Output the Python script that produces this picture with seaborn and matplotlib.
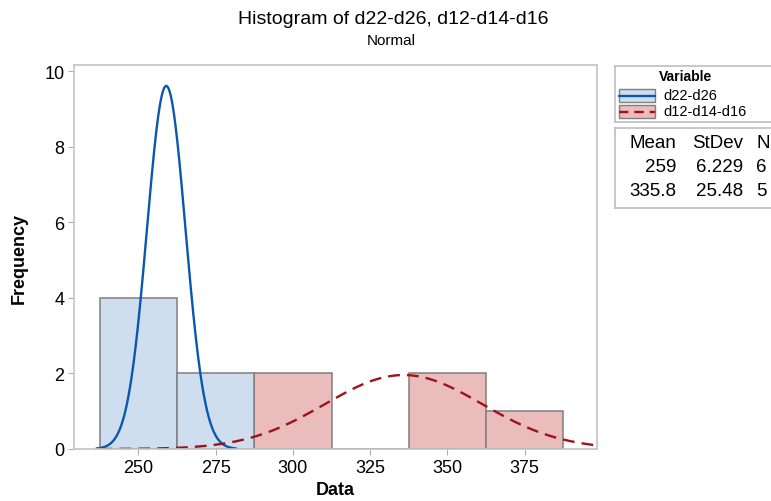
import numpy as np
import pandas as pd
import seaborn as sns
import matplotlib.pyplot as plt
from matplotlib.patches import Rectangle

# histogram bins (width 25) and counts per variable
bin_edges = [237.5, 262.5, 287.5, 312.5, 337.5, 362.5, 387.5]
variables = ["d22-d26", "d12-d14-d16"]
centers_d22 = [250, 275]
counts_d22 = [4, 2]
centers_d12 = [300, 350, 375]
counts_d12 = [2, 2, 1]

# fitted normal stats (from the legend table)
means = [259, 335.8]
stdevs = [6.229, 25.48]
ns = [6, 5]
mean_labels = ["259", "335.8"]
sd_labels = ["6.229", "25.48"]
n_labels = ["6", "5"]

fill_colors = {"d22-d26": "#cfdeef", "d12-d14-d16": "#eabcbc"}
line_colors = {"d22-d26": "#0a58ad", "d12-d14-d16": "#9e1219"}

sns.set_style("white")
plt.rcParams["font.family"] = ["Liberation Sans", "DejaVu Sans"]
plt.rcParams["text.color"] = "black"
plt.rcParams["axes.labelcolor"] = "black"
plt.rcParams["xtick.color"] = "black"
plt.rcParams["ytick.color"] = "black"

tabela = pd.DataFrame({
    "valor": centers_d22 + centers_d12,
    "peso": counts_d22 + counts_d12,
    "variable": [variables[0]] * len(centers_d22) + [variables[1]] * len(centers_d12),
})

fig = plt.figure(figsize=(7.71, 5.02), dpi=100)
ax = fig.add_axes([74 / 771, 52 / 502, (597 - 74) / 771, (450 - 66) / 502])

sns.histplot(data=tabela, x="valor", weights="peso", hue="variable", bins=bin_edges,
             palette=fill_colors, alpha=1, edgecolor="#7f7f7f", linewidth=1.1,
             legend=False, ax=ax)

# normal curves scaled to frequency
binw = bin_edges[1] - bin_edges[0]
spans = [3.63, 3.85]
for var, m, s, n, k in zip(variables, means, stdevs, ns, spans):
    xs = np.linspace(m - k * s, m + k * s, 400)
    ys = n * binw * np.exp(-0.5 * ((xs - m) / s) ** 2) / (s * np.sqrt(2 * np.pi))
    sns.lineplot(x=xs, y=ys, color=line_colors[var], linewidth=1.7, ax=ax)
    if var == "d12-d14-d16":
        ax.lines[-1].set_dashes((5, 3))

ax.set_xlim(229.15, 398.4)
ax.set_ylim(0, 10.16)
ax.set_xticks([250, 275, 300, 325, 350, 375])
ax.set_yticks([0, 2, 4, 6, 8, 10])
ax.tick_params(axis="both", labelsize=13, length=4, width=0.8, color="#b0b0b0",
               labelcolor="black", direction="out", left=True, bottom=True, pad=3)
for sp in ax.spines.values():
    sp.set_color("#c4c4c4")
    sp.set_linewidth(1.2)
ax.set_xlabel("Data", fontsize=13, fontweight="bold", labelpad=4)
ax.set_ylabel("Frequency", fontsize=13, fontweight="bold", labelpad=12)

fig.text(0.51, 0.962, "Histogram of d22-d26, d12-d14-d16", ha="center", va="center", fontsize=14)
fig.text(0.507, 0.918, "Normal", ha="center", va="center", fontsize=11)

# legend box 1 (pixel coordinates of the reference)
lg = fig.add_axes([615 / 771, (502 - 123) / 502, 200 / 771, 56 / 502])
lg.set_xlim(615, 815)
lg.set_ylim(123, 67)
lg.set_xticks([])
lg.set_yticks([])
for sp in lg.spines.values():
    sp.set_color("#bdbdbd")
    sp.set_linewidth(1.2)
lg.text(686, 77, "Variable", ha="center", va="center", fontsize=10, fontweight="bold")
lg.add_patch(Rectangle((619, 90), 36, 13, facecolor=fill_colors["d22-d26"], edgecolor="#7f7f7f", lw=1))
lg.plot([619, 655], [96.5, 96.5], color=line_colors["d22-d26"], lw=1.7)
lg.add_patch(Rectangle((619, 106), 36, 13, facecolor=fill_colors["d12-d14-d16"], edgecolor="#7f7f7f", lw=1))
lg.plot([619, 655], [112.5, 112.5], color=line_colors["d12-d14-d16"], lw=1.7, dashes=(4, 2.5))
lg.text(663, 96, variables[0], ha="left", va="center", fontsize=10.5)
lg.text(663, 111.5, variables[1], ha="left", va="center", fontsize=10.5)

# legend box 2: stats table
tb = fig.add_axes([615 / 771, (502 - 209) / 502, 200 / 771, 80 / 502])
tb.set_xlim(615, 815)
tb.set_ylim(209, 129)
tb.set_xticks([])
tb.set_yticks([])
for sp in tb.spines.values():
    sp.set_color("#bdbdbd")
    sp.set_linewidth(1.2)
tb.text(676, 144, "Mean", ha="right", va="center", fontsize=13.5)
tb.text(743, 144, "StDev", ha="right", va="center", fontsize=13.5)
tb.text(756, 144, "N", ha="left", va="center", fontsize=13.5)
for i in range(2):
    yy = 168 + 24 * i
    tb.text(676, yy, mean_labels[i], ha="right", va="center", fontsize=13.5)
    tb.text(743, yy, sd_labels[i], ha="right", va="center", fontsize=13.5)
    tb.text(756, yy, n_labels[i], ha="left", va="center", fontsize=13.5)

fig.savefig("out.png", dpi=100)
